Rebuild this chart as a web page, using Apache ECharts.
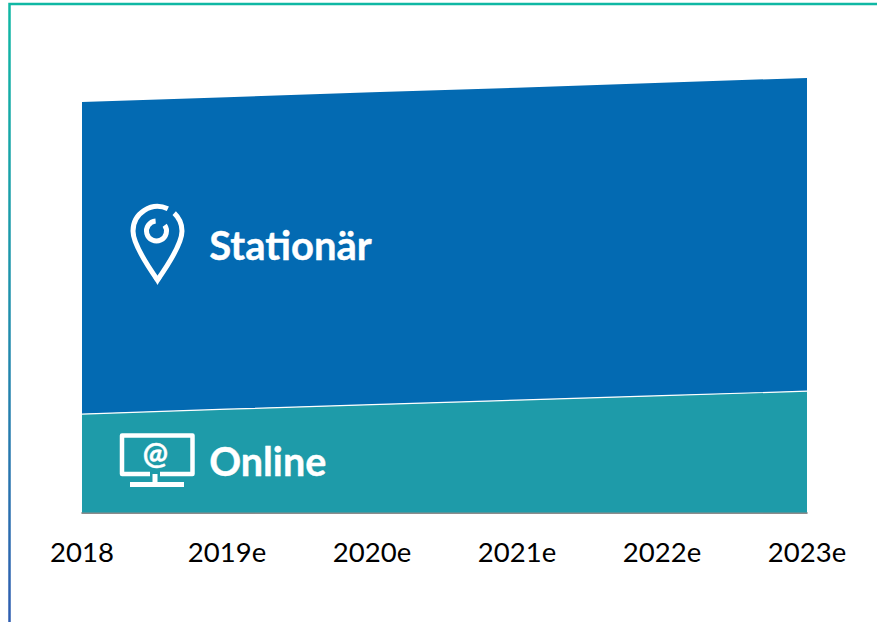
<!DOCTYPE html>
<html>
<head>
<meta charset="utf-8">
<style>html,body{margin:0;padding:0;background:#fff}#c{width:877px;height:622px}
text{font-variant-ligatures:none;font-feature-settings:"liga" 0}</style>
<script src="https://cdn.jsdelivr.net/npm/echarts@6/dist/echarts.min.js"></script>
</head>
<body>
<div id="c"></div>
<script>
const categories = ['2018','2019e','2020e','2021e','2022e','2023e'];
const online = [24.0, 25.2, 26.3, 27.4, 28.5, 29.6];
const stationaer = [76.1, 76.1, 76.2, 76.2, 76.3, 76.4];

const chart = echarts.init(document.getElementById('c'), null, {renderer:'svg'});
const deg = Math.PI / 180;
const ink = w => ({stroke:'#fff', fill:'none', lineWidth:w, lineJoin:'round'});
const deco = (type, shape, w) => ({type, silent:true, z:10, shape, style:ink(w)});
const label = (text, left, top, size) => ({type:'text', silent:true, z:10, left, top,
  style:{text, fill:'#fff', font:'bold ' + size + 'px Lato', stroke:'#fff', lineWidth:0.4}});
chart.setOption({
  animation:false,
  grid:{left:82, right:70, top:61.5, bottom:109.5, containLabel:false},
  xAxis:{type:'category', data:categories, boundaryGap:false,
    axisLine:{show:true, lineStyle:{color:'#666', width:1.5}}, axisTick:{show:false},
    axisLabel:{color:'#000', fontFamily:'Lato', fontSize:27.5, margin:25, interval:0, hideOverlap:false,
      showMinLabel:true, showMaxLabel:true, alignMinLabel:'center', alignMaxLabel:'center'}},
  yAxis:{type:'value', min:0, max:110, show:false, splitLine:{show:false}},
  series:[
    {name:'Online', type:'line', stack:'t', data:online, symbol:'none', z:3,
      lineStyle:{color:'#fff', width:1.2}, areaStyle:{color:'#1E9BA9', opacity:1}},
    {name:'Stationär', type:'line', stack:'t', data:stationaer, symbol:'none', z:2,
      lineStyle:{width:0}, areaStyle:{color:'#036AB2', opacity:1}}
  ],
  graphic:[
    {type:'polyline', silent:true, z:10, shape:{points:[[9.5,622],[9.5,4],[877,4]]},
      style:{fill:'none', lineWidth:2.5, stroke:new echarts.graphic.LinearGradient(0,0,0,1,[
        {offset:0,color:'#10B8A4'},{offset:0.5,color:'#1F8FAC'},{offset:1,color:'#2F5DB0'}])}},
    label('Stationär', 209, 225, 40),
    label('Online', 209, 440, 39.5),
    deco('arc', {cx:157.5, cy:231, r:24.5, startAngle:180*deg, endAngle:295*deg, clockwise:true}, 5),
    deco('arc', {cx:157.5, cy:231, r:24.5, startAngle:-47*deg, endAngle:0, clockwise:true}, 5),
    deco('bezierCurve', {x1:133, y1:231, cpx1:133, cpy1:243, cpx2:147, cpy2:265, x2:157.5, y2:280}, 5),
    deco('bezierCurve', {x1:182, y1:231, cpx1:182, cpy1:243, cpx2:168, cpy2:265, x2:157.5, y2:280}, 5),
    {type:'polygon', silent:true, z:10, shape:{points:[[157.5,285],[153.5,278],[161.5,278]]}, style:{fill:'#fff'}},
    deco('arc', {cx:156.5, cy:231, r:10, startAngle:-35*deg, endAngle:265*deg, clockwise:true}, 5),
    deco('polyline', {points:[[150,474],[122,474],[122,435.5],[192.5,435.5],[192.5,474],[160,474]]}, 4.5),
    deco('line', {x1:155, y1:474, x2:155, y2:484}, 5),
    deco('line', {x1:130, y1:484.5, x2:184, y2:484.5}, 5),
    label('@', 142.5, 437, 30)
  ]
});
</script>
</body>
</html>
